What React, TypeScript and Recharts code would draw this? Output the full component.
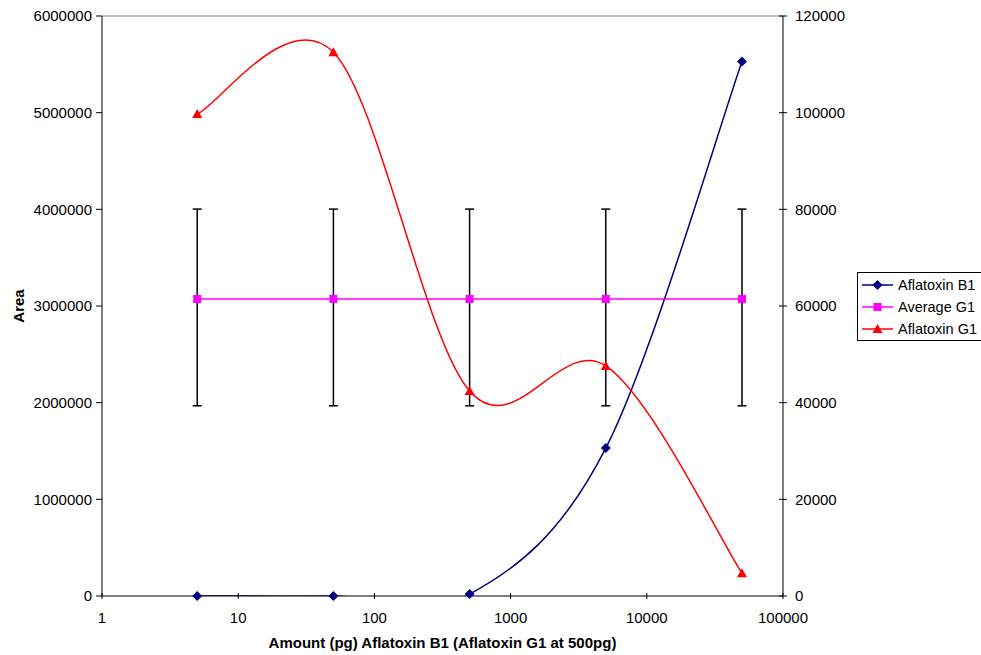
import React from 'react'
import {
  ErrorBar, Label, Legend, Line, LineChart, ReferenceLine, XAxis, YAxis,
} from 'recharts'

const amounts = [5, 50, 500, 5000, 50000]
const aflatoxinB1 = [0, 0, 20000, 1530000, 5530000]
const averageG1 = [61450, 61450, 61450, 61450, 61450]
const averageG1ErrLow = [22100, 22100, 22100, 22100, 22100]
const averageG1ErrHigh = [18600, 18600, 18600, 18600, 18600]
const aflatoxinG1 = [99700, 112500, 42400, 47600, 4700]

const xTicks = [1, 10, 100, 1000, 10000, 100000]
const leftTicks = [0, 1000000, 2000000, 3000000, 4000000, 5000000, 6000000]
const rightTicks = [0, 20000, 40000, 60000, 80000, 100000, 120000]

const data = amounts.map((amount, i) => ({
  amount,
  b1: aflatoxinB1[i],
  avgG1: averageG1[i],
  avgG1Err: [averageG1ErrLow[i], averageG1ErrHigh[i]],
  g1: aflatoxinG1[i],
}))

const FONT = '"Liberation Sans", Arial, sans-serif'
const tickStyle = { fontSize: 15, fill: '#000', fontFamily: FONT }

// excel style smoothing (catmull-rom, tension 1/6)
function excelCurve(context: any) {
  let pts: number[][] = []
  return {
    areaStart() {},
    areaEnd() {},
    lineStart() { pts = [] },
    point(x: number, y: number) { pts.push([+x, +y]) },
    lineEnd() {
      if (!pts.length) return
      context.moveTo(pts[0][0], pts[0][1])
      for (let i = 0; i < pts.length - 1; i++) {
        const p0 = pts[i - 1] ?? pts[i]
        const p1 = pts[i]
        const p2 = pts[i + 1]
        const p3 = pts[i + 2] ?? p2
        context.bezierCurveTo(
          p1[0] + (p2[0] - p0[0]) / 6, p1[1] + (p2[1] - p0[1]) / 6,
          p2[0] - (p3[0] - p1[0]) / 6, p2[1] - (p3[1] - p1[1]) / 6,
          p2[0], p2[1],
        )
      }
    },
  }
}

function marker(shape: string, color: string, cx: number, cy: number, key?: string) {
  if (shape === 'diamond') {
    return <polygon key={key} points={`${cx},${cy - 5} ${cx + 5},${cy} ${cx},${cy + 5} ${cx - 5},${cy}`} fill={color} />
  }
  if (shape === 'square') {
    return <rect key={key} x={cx - 4} y={cy - 4} width={8} height={8} fill={color} />
  }
  return <polygon key={key} points={`${cx},${cy - 5} ${cx + 5},${cy + 4} ${cx - 5},${cy + 4}`} fill={color} />
}

const dotOf = (shape: string, color: string) => (p: any) => marker(shape, color, p.cx, p.cy, `${shape}-${p.index}`)

const legendItems = [
  { name: 'Aflatoxin B1', color: '#000080', shape: 'diamond' },
  { name: 'Average G1', color: '#FF00FF', shape: 'square' },
  { name: 'Aflatoxin G1', color: '#FF0000', shape: 'triangle' },
]

function LegendBox() {
  return (
    <div style={{
      border: '1px solid #000', background: '#fff', width: 132, padding: '1px 0 0 4px',
      fontFamily: FONT, fontSize: 14.5, boxSizing: 'border-box',
    }}
    >
      {legendItems.map(item => (
        <div key={item.name} style={{ display: 'flex', alignItems: 'center', height: 22 }}>
          <svg width={34} height={12}>
            <line x1={0} x2={31} y1={6} y2={6} stroke={item.color} strokeWidth={1.5} />
            {marker(item.shape, item.color, 15.5, 6)}
          </svg>
          <span style={{ marginLeft: 2 }}>{item.name}</span>
        </div>
      ))}
    </div>
  )
}

export default function App() {
  return (
    <div style={{ position: 'absolute', left: 0, top: 0, width: 981, height: 655, overflow: 'hidden', background: '#fff' }}>
      <LineChart width={981} height={655} data={data} margin={{ top: 16, right: 0, bottom: 0, left: 0 }}>
        <XAxis
          dataKey='amount' type='number' scale='log' domain={[1, 100000]} ticks={xTicks} interval={0}
          height={59} tick={tickStyle} tickSize={6} tickMargin={10} stroke='#000'
          tickLine={{ stroke: '#000', transform: 'translate(0,-3)' }}
        >
          <Label content={({ viewBox }: any) => (
            <text
              x={viewBox.x + viewBox.width / 2} y={viewBox.y + 52} textAnchor='middle'
              style={{ fontFamily: FONT, fontSize: 15, fontWeight: 'bold' }} fill='#000'
            >
              Amount (pg) Aflatoxin B1 (Aflatoxin G1 at 500pg)
            </text>
          )}
          />
        </XAxis>
        <YAxis
          yAxisId='left' domain={[0, 6000000]} ticks={leftTicks} interval={0} width={102}
          tick={tickStyle} tickSize={6} tickMargin={4} stroke='#000'
        >
          <Label content={({ viewBox }: any) => {
            const x = viewBox.x + 18
            const y = viewBox.y + viewBox.height / 2
            return (
              <text
                x={x} y={y} transform={`rotate(-90, ${x}, ${y})`} textAnchor='middle' dominantBaseline='central'
                style={{ fontFamily: FONT, fontSize: 15, fontWeight: 'bold' }} fill='#000'
              >
                Area
              </text>
            )
          }}
          />
        </YAxis>
        <YAxis yAxisId='leftClip' hide domain={[0, 6000000]} allowDataOverflow />
        <YAxis
          yAxisId='right' orientation='right' domain={[0, 120000]} ticks={rightTicks} interval={0} width={198}
          tick={tickStyle} tickSize={8} tickMargin={4} stroke='#000'
          tickLine={{ stroke: '#000', transform: 'translate(-4,0)' }}
        />
        <ReferenceLine yAxisId='left' y={6000000} stroke='#808080' />
        <Legend
          layout='vertical' align='center' verticalAlign='middle'
          wrapperStyle={{ left: 857, top: 272, width: 132 }}
          content={() => <LegendBox />}
        />
        <Line
          yAxisId='leftClip' dataKey='b1' type={excelCurve as any} stroke='#000080' strokeWidth={1.5}
          dot={false} activeDot={false} isAnimationActive={false} legendType='none'
        />
        <Line
          yAxisId='left' dataKey='b1' stroke='none' dot={dotOf('diamond', '#000080')}
          activeDot={false} isAnimationActive={false} legendType='none'
        />
        <Line
          yAxisId='right' dataKey='avgG1' type='linear' stroke='#FF00FF' strokeWidth={1.5}
          dot={dotOf('square', '#FF00FF')} activeDot={false} isAnimationActive={false}
        >
          <ErrorBar dataKey='avgG1Err' direction='y' width={4.5} stroke='#000' strokeWidth={1.5} />
        </Line>
        <Line
          yAxisId='right' dataKey='g1' type={excelCurve as any} stroke='#FF0000' strokeWidth={1.5}
          dot={dotOf('triangle', '#FF0000')} activeDot={false} isAnimationActive={false}
        />
      </LineChart>
    </div>
  )
}
